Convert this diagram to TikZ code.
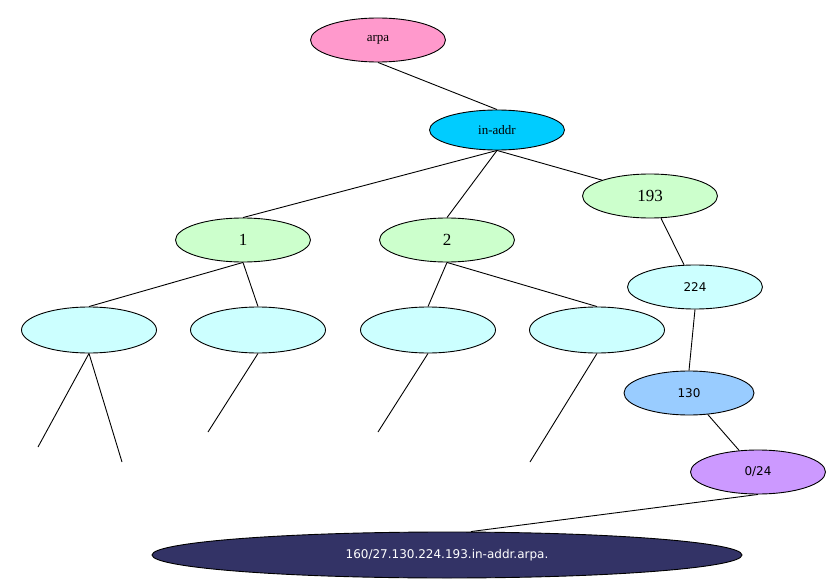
\documentclass[tikz,border=0pt]{standalone}
\usepackage{fontspec}
\newfontfamily\dv{DejaVu Sans}
\setmainfont{Liberation Serif}
\usetikzlibrary{shapes.geometric}
\definecolor{cpink}{HTML}{FF99CC}
\definecolor{ccyan}{HTML}{00CCFF}
\definecolor{cgreen}{HTML}{CCFFCC}
\definecolor{cpale}{HTML}{CCFFFF}
\definecolor{cblue}{HTML}{99CCFF}
\definecolor{cviolet}{HTML}{CC99FF}
\definecolor{cnavy}{HTML}{333366}
\begin{document}
\begin{tikzpicture}[x=1pt,y=-1pt,line width=0.9pt,
  ell/.style={ellipse,draw=black,inner sep=0pt,minimum width=135pt,minimum height=44pt,font=\fontsize{13}{15}\selectfont},
  big/.style={font=\fontsize{17}{19}\selectfont},
  sans/.style={font=\dv\fontsize{12}{14}\selectfont}]
\useasboundingbox (0,0) rectangle (839,586);
\node[ell,fill=cpink] (arpa) at (378,40) {arpa};
\node[ell,fill=ccyan,minimum height=40pt] (inaddr) at (497,130) {in-addr};
\node[ell,fill=cgreen,big] (n193) at (650,196) {193};
\node[ell,fill=cgreen,big] (n1) at (243,240) {1};
\node[ell,fill=cgreen,big] (n2) at (447,240) {2};
\node[ell,fill=cpale,sans] (n224) at (695,287) {224};
\node[ell,fill=cpale,minimum height=46pt] (b1) at (89,330) {};
\node[ell,fill=cpale,minimum height=46pt] (b2) at (258,330) {};
\node[ell,fill=cpale,minimum height=46pt] (b3) at (428,330) {};
\node[ell,fill=cpale,minimum height=46pt] (b4) at (597,330) {};
\node[ell,fill=cblue,sans,minimum width=130pt] (n130) at (689,393) {130};
\node[ell,fill=cviolet,sans] (n024) at (758,472) {0/24};
\node[ell,fill=cnavy,text=white,sans,minimum width=590pt,minimum height=46pt] (host) at (447,555) {160/27.130.224.193.in-addr.arpa.};
\coordinate (l1) at (38,447);
\coordinate (l2) at (122,462);
\coordinate (l3) at (208,432);
\coordinate (l4) at (378,432);
\coordinate (l5) at (530,462);
\draw (arpa.south) -- (inaddr.north);
\draw (inaddr.south) -- (n1.north);
\draw (inaddr.south) -- (n2.north);
\draw (inaddr.south) -- (n193.north west);
\draw (n193) -- (n224);
\draw (n1.south) -- (b1.north);
\draw (n1.south) -- (b2.north);
\draw (n2.south) -- (b3.north);
\draw (n2.south) -- (b4.north);
\draw (b1.south) -- (l1);
\draw (b1.south) -- (l2);
\draw (b2.south) -- (l3);
\draw (b3.south) -- (l4);
\draw (b4.south) -- (l5);
\draw (n224.south) -- (n130.north);
\draw (n130) -- (n024);
\draw (n024.south) -- ([xshift=24pt]host.north);
\end{tikzpicture}
\end{document}
